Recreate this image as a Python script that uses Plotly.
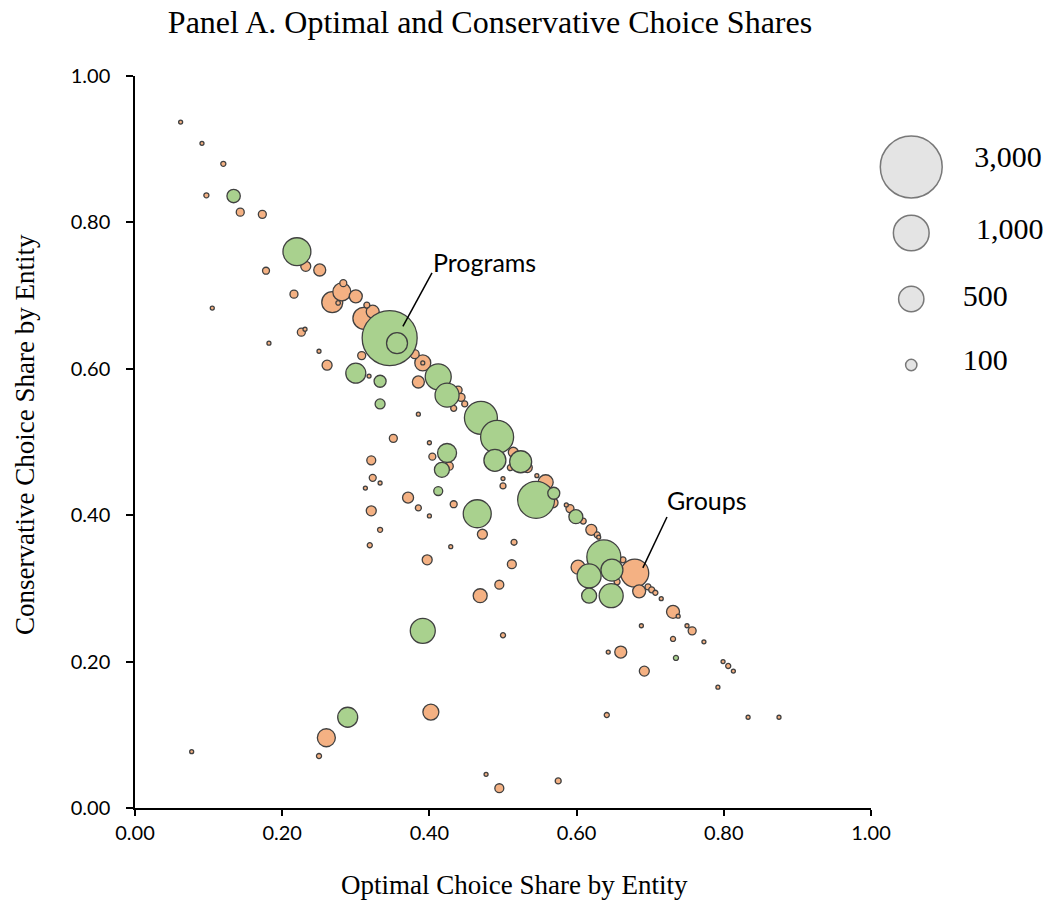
import plotly.graph_objects as go

# ---------------- data ----------------
# Programs (green bubbles): optimal share, conservative share, entity size
prog_x = [0.134, 0.220, 0.346, 0.356, 0.300, 0.333, 0.333, 0.412, 0.424, 0.470,
          0.492, 0.489, 0.524, 0.424, 0.417, 0.412, 0.465, 0.545, 0.569, 0.599,
          0.637, 0.617, 0.648, 0.617, 0.647, 0.735, 0.391, 0.289]
prog_y = [0.836, 0.760, 0.642, 0.635, 0.594, 0.583, 0.552, 0.589, 0.564, 0.533,
          0.507, 0.475, 0.473, 0.485, 0.462, 0.433, 0.402, 0.421, 0.430, 0.398,
          0.343, 0.317, 0.325, 0.290, 0.290, 0.205, 0.242, 0.124]
prog_n = [140, 610, 2370, 345, 313, 113, 78, 529, 451, 853,
          853, 379, 379, 283, 176, 63, 614, 1070, 113, 153,
          905, 451, 379, 176, 451, 20, 489, 313]

# Groups (orange bubbles)
grp_x = [0.062, 0.091, 0.120, 0.097, 0.143, 0.173, 0.232, 0.251, 0.178, 0.216,
         0.105, 0.268, 0.281, 0.283, 0.300, 0.276, 0.315, 0.323, 0.311, 0.226,
         0.231, 0.182, 0.250, 0.261, 0.308, 0.318, 0.380, 0.391, 0.391, 0.385,
         0.439, 0.443, 0.448, 0.433, 0.385, 0.351, 0.400, 0.404, 0.427, 0.514,
         0.533, 0.510, 0.500, 0.500, 0.546, 0.558, 0.568, 0.586, 0.591, 0.609,
         0.620, 0.628, 0.630, 0.602, 0.663, 0.679, 0.655, 0.685, 0.697, 0.702,
         0.707, 0.715, 0.731, 0.738, 0.688, 0.750, 0.757, 0.731, 0.773, 0.643,
         0.660, 0.692, 0.799, 0.806, 0.813, 0.792, 0.641, 0.833, 0.875, 0.472,
         0.429, 0.397, 0.515, 0.512, 0.495, 0.469, 0.500, 0.402, 0.260, 0.250,
         0.077, 0.477, 0.495, 0.575, 0.321, 0.323, 0.313, 0.333, 0.371, 0.385,
         0.433, 0.400, 0.321, 0.333, 0.319]
grp_y = [0.937, 0.908, 0.880, 0.837, 0.814, 0.811, 0.740, 0.735, 0.734, 0.702,
         0.683, 0.691, 0.705, 0.717, 0.699, 0.690, 0.687, 0.678, 0.669, 0.650,
         0.654, 0.635, 0.624, 0.605, 0.618, 0.590, 0.620, 0.608, 0.608, 0.582,
         0.571, 0.561, 0.552, 0.546, 0.538, 0.505, 0.499, 0.480, 0.467, 0.486,
         0.465, 0.465, 0.450, 0.440, 0.454, 0.445, 0.417, 0.414, 0.409, 0.392,
         0.380, 0.373, 0.370, 0.329, 0.339, 0.321, 0.309, 0.296, 0.302, 0.298,
         0.294, 0.286, 0.268, 0.262, 0.249, 0.249, 0.242, 0.231, 0.227, 0.213,
         0.213, 0.187, 0.200, 0.194, 0.187, 0.165, 0.127, 0.124, 0.124, 0.374,
         0.357, 0.339, 0.363, 0.333, 0.305, 0.290, 0.236, 0.131, 0.096, 0.071,
         0.077, 0.046, 0.027, 0.037, 0.475, 0.451, 0.437, 0.444, 0.424, 0.410,
         0.415, 0.399, 0.406, 0.380, 0.359]
grp_n = [12, 10, 20, 20, 50, 50, 78, 113, 38, 50,
         12, 345, 254, 38, 132, 16, 28, 132, 379, 50,
         12, 7, 7, 78, 50, 12, 63, 200, 12, 113,
         50, 50, 28, 28, 7, 50, 12, 38, 50, 78,
         78, 28, 12, 28, 7, 176, 78, 12, 50, 28,
         95, 28, 12, 153, 28, 614, 28, 132, 28, 28,
         20, 5, 132, 12, 7, 7, 50, 20, 12, 7,
         113, 78, 7, 20, 12, 12, 20, 12, 5, 78,
         7, 78, 28, 63, 63, 153, 20, 200, 254, 20,
         7, 12, 63, 28, 63, 38, 12, 5, 95, 28,
         38, 4, 78, 20, 20]

legend_n = [3000, 1000, 500, 100]
legend_labels = ["3,000", "1,000", "500", "100"]

# ---------------- styling ----------------
GREEN = "#A9D18E"
ORANGE = "#F4B183"
EDGE = "#404040"
SERIF = "Liberation Serif"
SANS = "Lato"
SIZEREF = 2 / (1.13 ** 2)


def by_size(xs, ys, ns):
    rows = sorted(zip(xs, ys, ns), key=lambda r: -r[2])
    return [r[0] for r in rows], [r[1] for r in rows], [r[2] for r in rows]


fig = go.Figure()

for xs, ys, ns, col, name in [(grp_x, grp_y, grp_n, ORANGE, "Groups"),
                              (prog_x, prog_y, prog_n, GREEN, "Programs")]:
    sx, sy, sn = by_size(xs, ys, ns)
    fig.add_trace(go.Scatter(
        x=sx, y=sy, mode="markers", name=name,
        marker=dict(size=sn, sizemode="area", sizeref=SIZEREF, sizemin=2,
                    color=col, opacity=1,
                    line=dict(color=EDGE, width=1.3)),
        hoverinfo="x+y+text", text=[str(n) for n in sn],
        showlegend=False, cliponaxis=False))

# size key drawn on its own small axis at the right
key_pos = list(range(len(legend_n) - 1, -1, -1))
fig.add_trace(go.Scatter(
    x=[0.23] * len(legend_n), y=key_pos, mode="markers",
    marker=dict(size=legend_n, sizemode="area", sizeref=SIZEREF,
                color="#D9D9D9", line=dict(color=EDGE, width=1.5)),
    xaxis="x2", yaxis="y2", showlegend=False, hoverinfo="skip",
    cliponaxis=False))

label_x = [0.59, 0.60, 0.525, 0.525]
label_y = [p + d for p, d in zip(key_pos, [0.12, 0.02, 0.01, 0.035])]
fig.add_trace(go.Scatter(
    x=label_x, y=label_y, mode="text", text=legend_labels,
    textposition="middle right",
    textfont=dict(family=SERIF, size=30, color="black"),
    xaxis="x2", yaxis="y2", showlegend=False, hoverinfo="skip",
    cliponaxis=False))

W, H = 1046, 902
L, R, T, B = 135, 0, 76, 94
plot_w = W - L - R
plot_h = H - T - B
main_frac = 736 / plot_w

annotations = [
    dict(x=0.4755, y=0.746, xref="x", yref="y", text="Programs",
         showarrow=False, font=dict(family=SANS, size=25, color="black")),
    dict(x=0.777, y=0.421, xref="x", yref="y", text="Groups",
         showarrow=False, font=dict(family=SANS, size=25, color="black")),
    # axis titles
    dict(x=(514 - L) / plot_w, y=(H - B - 885) / plot_h, xref="paper", yref="paper",
         text="Optimal Choice Share by Entity", showarrow=False,
         xanchor="center", yanchor="middle",
         font=dict(family=SERIF, size=27, color="black")),
    dict(x=(25 - L) / plot_w, y=(H - B - 435) / plot_h, xref="paper", yref="paper",
         text="Conservative Choice Share by Entity", showarrow=False, textangle=-90,
         xanchor="center", yanchor="middle",
         font=dict(family=SERIF, size=27, color="black")),
]

shapes = [
    dict(type="line", xref="x", yref="y", x0=0.364, y0=0.658, x1=0.4035, y1=0.731,
         line=dict(color="black", width=1.5)),
    dict(type="line", xref="x", yref="y", x0=0.690, y0=0.328, x1=0.7228, y1=0.3975,
         line=dict(color="black", width=1.5)),
]

fig.update_layout(
    width=W, height=H,
    margin=dict(l=L, r=R, t=T, b=B, pad=0, autoexpand=False),
    paper_bgcolor="white", plot_bgcolor="white",
    title=dict(text="Panel A. Optimal and Conservative Choice Shares",
               x=490 / W, xref="container", xanchor="center",
               y=1 - 22 / H, yref="container", yanchor="middle",
               font=dict(family=SERIF, size=32, color="black")),
    xaxis=dict(domain=[0, main_frac], range=[0, 1],
               tickvals=[0, 0.2, 0.4, 0.6, 0.8, 1.0], tickformat=".2f",
               showline=True, linecolor="black", linewidth=1.5,
               ticks="outside", ticklen=6, tickwidth=1.5, tickcolor="black",
               showgrid=False, zeroline=False, automargin=False,
               tickfont=dict(family=SANS, size=20, color="black")),
    yaxis=dict(domain=[0, 1], range=[0, 1],
               tickvals=[0, 0.2, 0.4, 0.6, 0.8, 1.0], tickformat=".2f",
               showline=True, linecolor="black", linewidth=1.5,
               ticks="outside", ticklen=7, tickwidth=1.5, tickcolor="black",
               ticklabelstandoff=12, automargin=False,
               showgrid=False, zeroline=False,
               tickfont=dict(family=SANS, size=20, color="black")),
    xaxis2=dict(domain=[main_frac, 1], range=[0, 1], visible=False,
                anchor="y2", fixedrange=True, automargin=False),
    yaxis2=dict(domain=[0, 1], range=[-(808 - 365) / 66, 3 + (167 - 76) / 66],
                visible=False, anchor="x2", fixedrange=True, automargin=False),
    annotations=annotations,
    shapes=shapes,
)

fig.write_html("out.html")
